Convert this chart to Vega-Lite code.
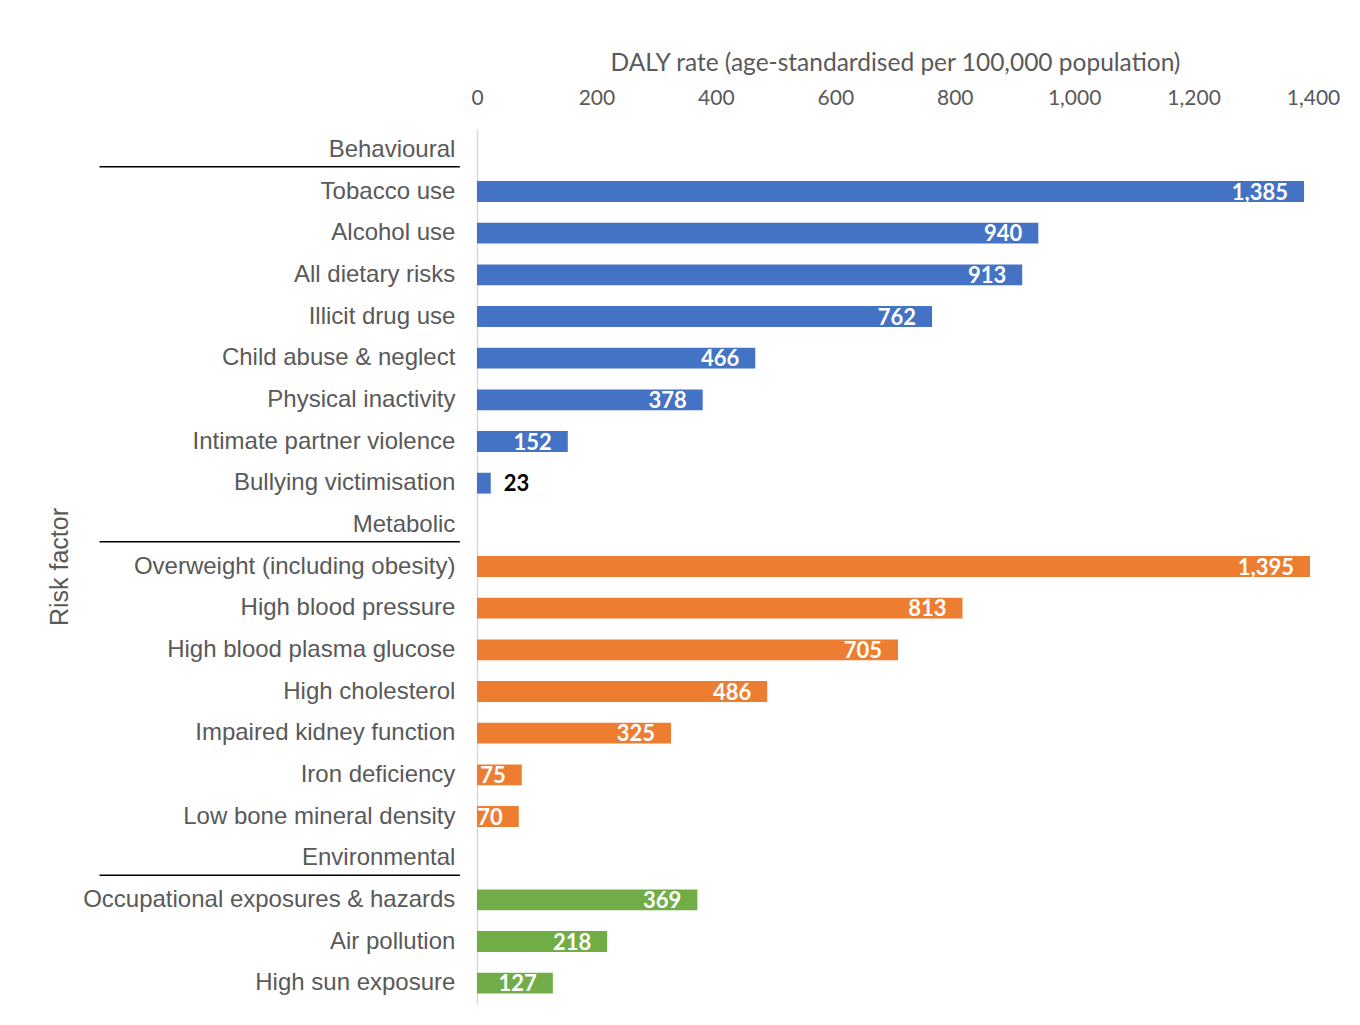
{
  "$schema": "https://vega.github.io/schema/vega-lite/v6.json",
  "padding": {"left": 47, "top": 50, "right": 5, "bottom": 5},
  "background": "white",
  "bounds": "flush",
  "spacing": 7,
  "config": {"view": {"stroke": null}},
  "data": {
    "values": [
      {"label": "Behavioural", "group": "Behavioural", "value": null, "header": true},
      {"label": "Tobacco use", "group": "Behavioural", "value": 1385, "header": false},
      {"label": "Alcohol use", "group": "Behavioural", "value": 940, "header": false},
      {"label": "All dietary risks", "group": "Behavioural", "value": 913, "header": false},
      {"label": "Illicit drug use", "group": "Behavioural", "value": 762, "header": false},
      {"label": "Child abuse & neglect", "group": "Behavioural", "value": 466, "header": false},
      {"label": "Physical inactivity", "group": "Behavioural", "value": 378, "header": false},
      {"label": "Intimate partner violence", "group": "Behavioural", "value": 152, "header": false},
      {"label": "Bullying victimisation", "group": "Behavioural", "value": 23, "header": false},
      {"label": "Metabolic", "group": "Metabolic", "value": null, "header": true},
      {"label": "Overweight (including obesity)", "group": "Metabolic", "value": 1395, "header": false},
      {"label": "High blood pressure", "group": "Metabolic", "value": 813, "header": false},
      {"label": "High blood plasma glucose", "group": "Metabolic", "value": 705, "header": false},
      {"label": "High cholesterol", "group": "Metabolic", "value": 486, "header": false},
      {"label": "Impaired kidney function", "group": "Metabolic", "value": 325, "header": false},
      {"label": "Iron deficiency", "group": "Metabolic", "value": 75, "header": false},
      {"label": "Low bone mineral density", "group": "Metabolic", "value": 70, "header": false},
      {"label": "Environmental", "group": "Environmental", "value": null, "header": true},
      {"label": "Occupational exposures & hazards", "group": "Environmental", "value": 369, "header": false},
      {"label": "Air pollution", "group": "Environmental", "value": 218, "header": false},
      {"label": "High sun exposure", "group": "Environmental", "value": 127, "header": false}
    ]
  },
  "hconcat": [
    {
      "width": 390,
      "height": 875,
      "encoding": {
        "y": {
          "field": "label",
          "type": "nominal",
          "sort": null,
          "scale": {
            "domain": ["Behavioural", "Tobacco use", "Alcohol use", "All dietary risks", "Illicit drug use", "Child abuse & neglect", "Physical inactivity", "Intimate partner violence", "Bullying victimisation", "Metabolic", "Overweight (including obesity)", "High blood pressure", "High blood plasma glucose", "High cholesterol", "Impaired kidney function", "Iron deficiency", "Low bone mineral density", "Environmental", "Occupational exposures & hazards", "Air pollution", "High sun exposure"],
            "paddingInner": 0.5,
            "paddingOuter": 0.25
          },
          "axis": {
            "title": "Risk factor",
            "labels": false,
            "ticks": false,
            "domain": false,
            "titleFont": "Liberation Sans",
            "titleFontSize": 25,
            "titleFontWeight": "normal",
            "titleColor": "#595959",
            "titlePadding": 8
          }
        }
      },
      "layer": [
        {
          "mark": {"type": "text", "align": "right", "baseline": "middle", "font": "Liberation Sans", "fontSize": 24, "color": "#595959"},
          "encoding": {
            "x": {"datum": 0.9625, "type": "quantitative", "scale": {"domain": [0, 1]}, "axis": null},
            "text": {"field": "label"}
          }
        },
        {
          "transform": [{"filter": "datum.header"}],
          "mark": {"type": "rule", "color": "#000000", "strokeWidth": 1.5, "yOffset": 17},
          "encoding": {
            "x": {"datum": 0.05, "type": "quantitative", "scale": {"domain": [0, 1]}, "axis": null},
            "x2": {"datum": 0.974}
          }
        }
      ]
    },
    {
      "width": 836,
      "height": 875,
      "encoding": {
        "y": {
          "field": "label",
          "type": "nominal",
          "sort": null,
          "scale": {
            "domain": ["Behavioural", "Tobacco use", "Alcohol use", "All dietary risks", "Illicit drug use", "Child abuse & neglect", "Physical inactivity", "Intimate partner violence", "Bullying victimisation", "Metabolic", "Overweight (including obesity)", "High blood pressure", "High blood plasma glucose", "High cholesterol", "Impaired kidney function", "Iron deficiency", "Low bone mineral density", "Environmental", "Occupational exposures & hazards", "Air pollution", "High sun exposure"],
            "paddingInner": 0.5,
            "paddingOuter": 0.25
          },
          "axis": {"title": null, "labels": false, "ticks": false, "domain": true, "domainColor": "#D9D9D9", "domainWidth": 1.5}
        }
      },
      "layer": [
        {
          "mark": {"type": "bar"},
          "encoding": {
            "x": {
              "field": "value",
              "type": "quantitative",
              "scale": {"domain": [0, 1400], "nice": false},
              "axis": {
                "orient": "top",
                "title": "DALY rate (age-standardised per 100,000 population)",
                "values": [0, 200, 400, 600, 800, 1000, 1200, 1400],
                "format": ",.0f",
                "grid": false,
                "ticks": false,
                "domain": false,
                "labelFont": "Lato",
                "labelFontSize": 21,
                "labelColor": "#595959",
                "labelPadding": 21,
                "labelFlush": false,
                "titleFont": "Lato",
                "titleFontSize": 24.5,
                "titleFontWeight": "normal",
                "titleColor": "#595959",
                "titlePadding": 12
              }
            },
            "color": {
              "field": "group",
              "type": "nominal",
              "scale": {"domain": ["Behavioural", "Metabolic", "Environmental"], "range": ["#4472C4", "#ED7D31", "#70AD47"]},
              "legend": null
            }
          }
        },
        {
          "transform": [{"filter": "datum.value >= 50"}],
          "mark": {"type": "text", "align": "right", "baseline": "middle", "dx": -16, "dy": 1, "font": "Lato", "fontSize": 22, "fontWeight": "bold", "color": "white"},
          "encoding": {
            "x": {"field": "value", "type": "quantitative"},
            "text": {"field": "value", "type": "quantitative", "format": ","}
          }
        },
        {
          "transform": [{"filter": "datum.value != null && datum.value < 50"}],
          "mark": {"type": "text", "align": "left", "baseline": "middle", "dx": 13, "dy": 1, "font": "Lato", "fontSize": 22, "fontWeight": "bold", "color": "black"},
          "encoding": {
            "x": {"field": "value", "type": "quantitative"},
            "text": {"field": "value", "type": "quantitative", "format": ","}
          }
        }
      ]
    }
  ]
}
